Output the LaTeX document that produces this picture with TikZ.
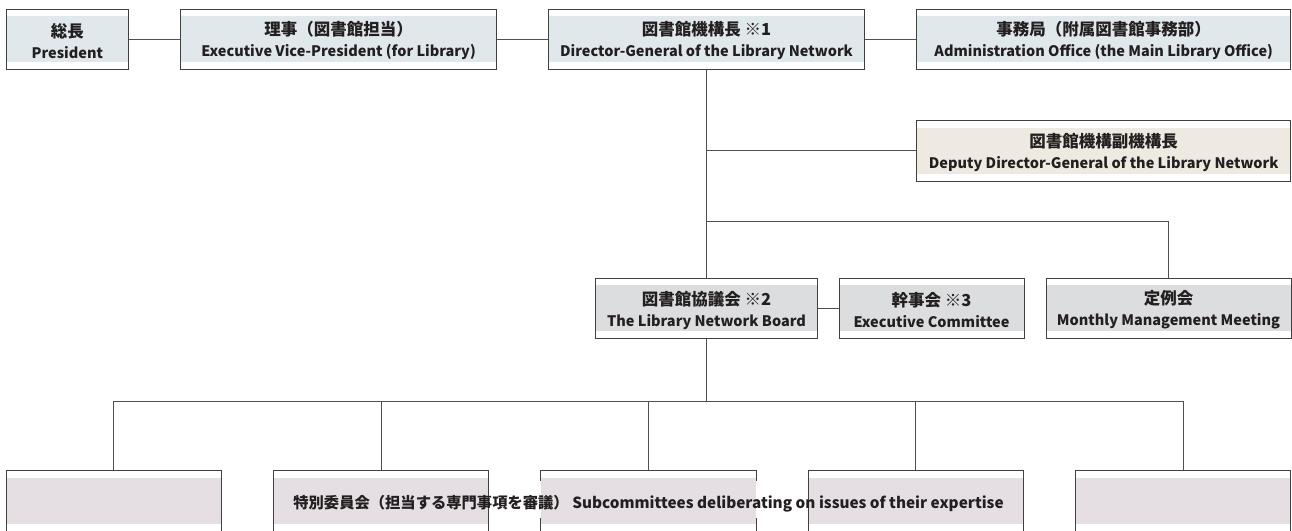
\documentclass[tikz,border=0pt]{standalone}
\usepackage{fontspec}
\setmainfont{Noto Sans CJK JP}
\newcommand\jpf{\fontsize{16.5}{21}\selectfont}
\definecolor{bordc}{HTML}{404040}
\definecolor{linec}{HTML}{505050}
\definecolor{txtc}{HTML}{231F20}
\definecolor{blu}{HTML}{E1E8EB}
\definecolor{bei}{HTML}{EEEAE2}
\definecolor{gry}{HTML}{DCDDDE}
\definecolor{pnk}{HTML}{E5DEE3}
\tikzset{
  orgbox/.style={draw=bordc, line width=1pt, minimum height=60.3pt, inner sep=0pt,
    path picture={\fill[#1] ([yshift=-7pt]path picture bounding box.north west) rectangle ([yshift=7.3pt]path picture bounding box.south east);}},
  orgtext/.style={inner sep=0pt, align=center, text=txtc, font=\fontsize{14.5}{21}\selectfont\bfseries},
  conn/.style={draw=linec, line width=1pt},
}
% name, colour, width, position, Japanese line, English line
\newcommand\orgnode[6]{%
  \node[orgbox=#2, minimum width=#3] (#1) at (#4) {};
  \node[orgtext, yshift=-1.5pt] (#1t) at (#1) {{\jpf #5}\\#6};
}
\begin{document}
\begin{tikzpicture}[x=1pt,y=1pt]
\useasboundingbox (0,0) rectangle (1292,-530);
% row 1
\orgnode{pres}{blu}{122.7pt}{67.35,-39.15}{総長}{President}
\orgnode{vp}{blu}{315.7pt}{338.55,-39.15}{理事（図書館担当）}{Executive Vice-President (for Library)}
\orgnode{dir}{blu}{315.6pt}{706.5,-39.15}{図書館機構長 ※1}{Director-General of the Library Network}
\orgnode{adm}{blu}{374pt}{1103.7,-39.15}{事務局（附属図書館事務部）}{Administration Office (the Main Library Office)}
% deputy
\orgnode{dep}{bei}{374pt}{1103.7,-150.85}{図書館機構副機構長}{Deputy Director-General of the Library Network}
% row 3
\orgnode{brd}{gry}{221.3pt}{706.5,-308.5}{図書館協議会 ※2}{The Library Network Board}
\orgnode{exc}{gry}{185pt}{931.5,-308.5}{幹事会 ※3}{Executive Committee}
\orgnode{mon}{gry}{245pt}{1168.5,-308.5}{定例会}{Monthly Management Meeting}
% row 4
\node[orgbox=pnk, minimum width=215.5pt] (s1) at (113.8,-500.85) {};
\node[orgbox=pnk, minimum width=215.5pt] (s2) at (381.15,-500.85) {};
\node[orgbox=pnk, minimum width=215.5pt] (s3) at (648.5,-500.85) {};
\node[orgbox=pnk, minimum width=215.5pt] (s4) at (915.85,-500.85) {};
\node[orgbox=pnk, minimum width=215.5pt] (s5) at (1183.2,-500.85) {};
% connectors
\draw[conn] (pres) -- (vp);
\draw[conn] (vp) -- (dir);
\draw[conn] (dir) -- (adm);
\draw[conn] (dir.south) -- (brd.north);
\coordinate (tdep) at (dir.south |- dep.west);
\draw[conn] (tdep) -- (dep.west);
\coordinate (tmon) at (706.5,-221);
\draw[conn] (tmon) -| (mon.north);
\draw[conn] (brd) -- (exc);
\coordinate (bus) at (706.5,-401.7);
\draw[conn] (brd.south) -- (bus);
\draw[conn] (s1.north) |- (bus) -| (s5.north);
\foreach \n in {s2,s3,s4} \draw[conn] (\n.north) -- (\n.north |- bus);
% gaps behind the text
\fill[white] ([xshift=-0.6pt]s2.east |- 0,-481) rectangle ([xshift=0.6pt]s3.west |- 0,-518);
\fill[white] ([xshift=-0.6pt]s3.east |- 0,-481) rectangle ([xshift=0.6pt]s4.west |- 0,-518);
\node[text=txtc, font=\fontsize{15.3}{20}\selectfont\bfseries, inner sep=0pt] (sub) at (648.5,-503.5) {特別委員会（担当する専門事項を審議）\ Subcommittees deliberating on issues of their expertise};
\end{tikzpicture}
\end{document}
